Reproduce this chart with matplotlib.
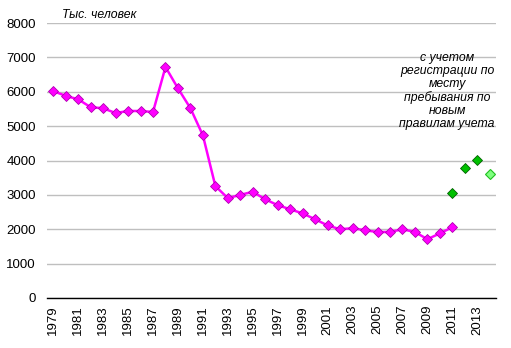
import matplotlib
matplotlib.use("Agg")
import matplotlib.pyplot as plt
import numpy as np

plt.rcParams['font.family'] = ['Liberation Sans', 'DejaVu Sans']

years = list(range(1979, 2015))
old_rules = [6020, 5880, 5780, 5550, 5520, 5380, 5440, 5440, 5410, 6720,
             6100, 5520, 4730, 3255, 2905, 3000, 3090, 2870, 2700, 2580,
             2460, 2290, 2110, 2000, 2030, 1970, 1920, 1920, 2000, 1920,
             1710, 1880, 2060]
new_years = [2011, 2012, 2013]
new_rules = [3050, 3790, 4010]
latest_year = [2014]
latest_value = [3610]
tick_years = list(range(1979, 2015, 2))

fig = plt.figure(figsize=(5.11, 3.48), dpi=100)
ax = fig.add_axes([47 / 511, 1 - 298 / 348, 449 / 511, 275 / 348])

idx = {y: i for i, y in enumerate(years)}
x_old = [idx[y] for y in years[:len(old_rules)]]
ax.plot(x_old, old_rules, color='#ff00ff', lw=1.8, marker='D', ms=5.5,
        mfc='#ff00ff', mec='#b000b0', mew=0.6, zorder=3)
ax.plot([idx[y] for y in new_years], new_rules, ls='none', marker='D', ms=5,
        mfc='#00c000', mec='#006000', mew=0.6, zorder=3)
ax.plot([idx[y] for y in latest_year], latest_value, ls='none', marker='D', ms=5,
        mfc='#80ff80', mec='#20c020', mew=0.8, zorder=3)

ax.set_xlim(-0.5, len(years) - 0.5)
ax.set_ylim(0, 8000)
ax.set_yticks(range(0, 8001, 1000))
ax.set_xticks([idx[y] for y in tick_years])
ax.set_xticklabels([str(y) for y in tick_years], rotation=90)
ax.tick_params(axis='both', length=0, labelsize=9.5)
ax.tick_params(axis='y', pad=8)
ax.tick_params(axis='x', pad=5)
ax.grid(axis='y', color='#bfbfbf', lw=1)
ax.set_axisbelow(True)
for s in ['left', 'right', 'top']:
    ax.spines[s].set_visible(False)
ax.spines['bottom'].set_color('black')
ax.spines['bottom'].set_linewidth(1)

fig.text(62 / 511, 1 - 15 / 348, 'Тыс. человек', fontsize=8.8, style='italic',
         ha='left', va='center')
fig.text(447 / 511, 1 - 91 / 348,
         'с учетом\nрегистрации по\nместу\nпребывания по\nновым\nправилам учета',
         fontsize=8.8, style='italic', ha='center', va='center', linespacing=1.12)

fig.savefig('out.png', dpi=100)
